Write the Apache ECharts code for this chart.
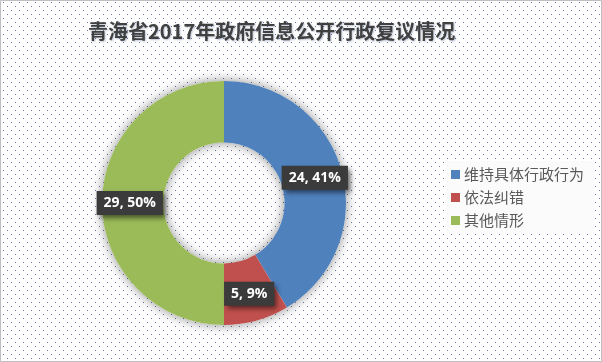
<!DOCTYPE html>
<html>
<head>
<meta charset="utf-8">
<script src="https://cdn.jsdelivr.net/npm/echarts@6/dist/echarts.min.js"></script>
<style>
html,body{margin:0;padding:0;background:#fff;}
#c{width:602px;height:362px;}
</style>
</head>
<body>
<div id="c"></div>
<script>
const title = '青海省2017年政府信息公开行政复议情况';
const categories = ['维持具体行政行为', '依法纠错', '其他情形'];
const values = [24, 5, 29];
const colors = ['#4F81BD', '#C0504D', '#9BBB59'];

// dotted background pattern
const pc = document.createElement('canvas');
pc.width = 8; pc.height = 8;
const pctx = pc.getContext('2d');
pctx.fillStyle = '#ffffff';
pctx.fillRect(0, 0, 8, 8);
pctx.fillStyle = '#6577a0';
pctx.fillRect(3, 2, 1, 1);
pctx.fillRect(7, 6, 1, 1);
document.getElementById('c').style.backgroundImage = 'url(' + pc.toDataURL() + ')';

const chart = echarts.init(document.getElementById('c'), null, {renderer: 'canvas'});
const total = values.reduce((a, b) => a + b, 0);
const center = [224, 203];
const radius = [60.5, 122];

chart.setOption({
  backgroundColor: 'transparent',
  animation: false,
  title: {
    text: title,
    left: 88,
    top: 21,
    padding: 0,
    textStyle: {
      fontFamily: '"Noto Sans CJK SC", sans-serif',
      fontWeight: 'bold',
      fontSize: 20,
      color: '#404040',
      textShadowColor: 'rgba(60,80,120,0.35)',
      textShadowBlur: 2,
      textShadowOffsetX: 1,
      textShadowOffsetY: 1
    }
  },
  legend: {
    data: categories,
    orient: 'vertical',
    left: 447,
    top: 161,
    padding: [6, 10, 6, 4],
    backgroundColor: '#fbfbfb',
    itemWidth: 9,
    itemHeight: 9,
    itemGap: 8,
    icon: 'rect',
    selectedMode: false,
    textStyle: {
      fontFamily: '"Noto Sans CJK SC", sans-serif',
      fontSize: 15,
      color: '#595959',
      padding: [0, 0, 0, -1]
    }
  },
  graphic: [{
    type: 'rect',
    silent: true,
    shape: {x: 0.5, y: 0.5, width: 601, height: 361},
    style: {fill: 'none', stroke: '#bfbfbf', lineWidth: 1}
  }],
  series: [
    {
      type: 'pie',
      name: 'ring',
      silent: true,
      center: center,
      radius: radius,
      z: 1,
      label: {show: false},
      labelLine: {show: false},
      emphasis: {disabled: true},
      itemStyle: {
        color: '#ffffff',
        shadowBlur: 12,
        shadowColor: 'rgba(0,0,0,0.45)'
      },
      data: [{value: total, name: ''}]
    },
    {
      type: 'pie',
      name: '复议',
      center: center,
      radius: radius,
      z: 2,
      startAngle: 90,
      clockwise: true,
      percentPrecision: 0,
      emphasis: {disabled: true},
      labelLine: {show: false},
      label: {
        show: true,
        position: 'inside',
        formatter: '{c}, {d}%',
        fontFamily: '"Open Sans", "Noto Sans", sans-serif',
        fontWeight: 'bold',
        fontSize: 14,
        lineHeight: 17,
        color: '#ffffff',
        backgroundColor: '#3b3b3b',
        padding: [4, 7, 3, 7],
        shadowColor: 'rgba(0,0,0,0.55)',
        shadowBlur: 5,
        shadowOffsetX: 3,
        shadowOffsetY: 3
      },
      itemStyle: {borderWidth: 0},
      data: categories.map((n, i) => ({name: n, value: values[i], itemStyle: {color: colors[i]}}))
    }
  ]
});
</script>
</body>
</html>
